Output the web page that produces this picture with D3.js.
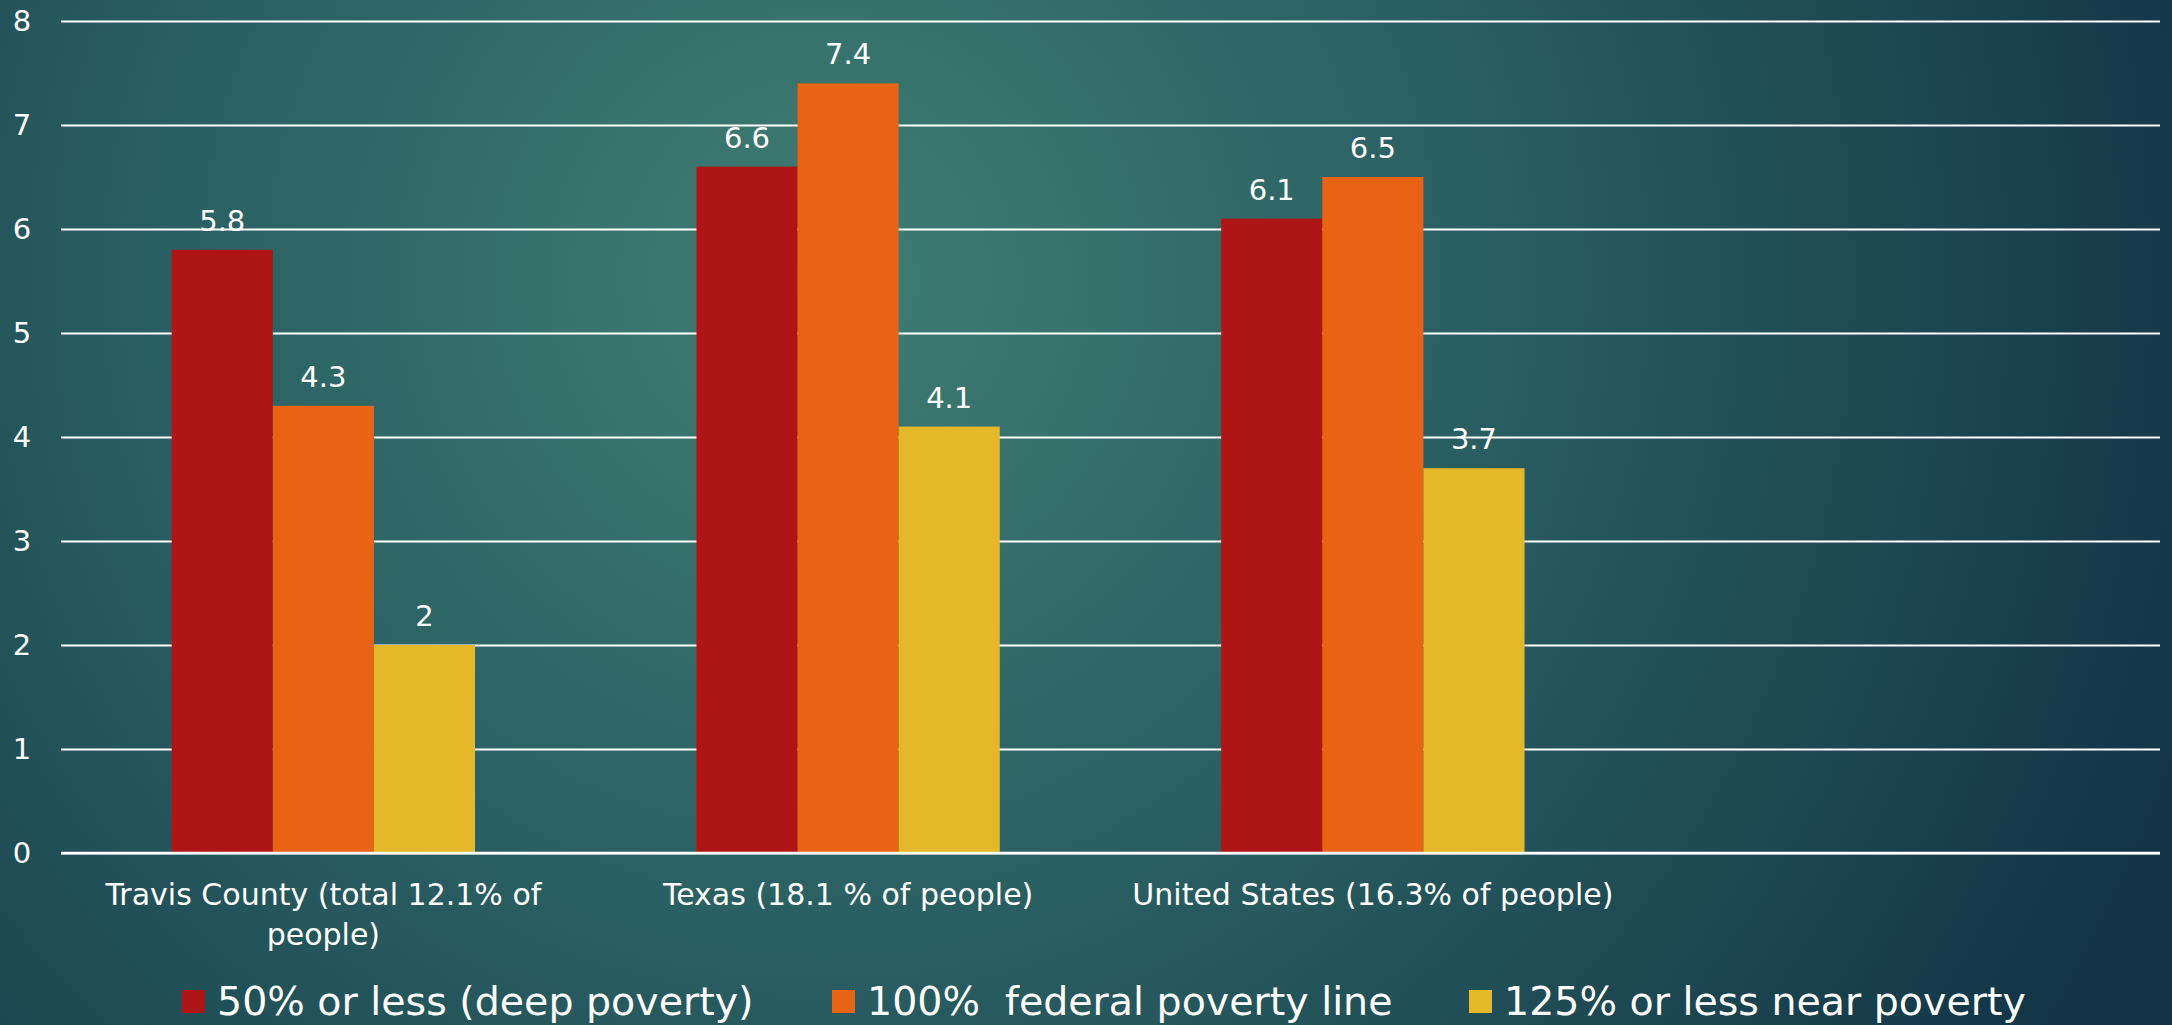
<!DOCTYPE html>
<html><head><meta charset="utf-8">
<script src="https://cdn.jsdelivr.net/npm/d3@7"></script>
<style>
html,body{margin:0;padding:0;overflow:hidden;background:#1d4a52;}
svg{display:block;}
text{font-family:"DejaVu Sans","Noto Sans",sans-serif;fill:#ffffff;font-weight:400;}
</style></head>
<body>
<script>
const categories = ["Travis County (total 12.1% of people)", "Texas (18.1 % of people)", "United States (16.3% of people)", ""];
const seriesNames = ["50% or less (deep poverty)", "100%  federal poverty line", "125% or less near poverty"];
const deepPoverty = [5.8, 6.6, 6.1];
const federalLine = [4.3, 7.4, 6.5];
const nearPoverty = [2, 4.1, 3.7];
const yTicks = [0, 1, 2, 3, 4, 5, 6, 7, 8];
const seriesColors = ["#AF1515", "#E86313", "#E5B82A"];

const series = [deepPoverty, federalLine, nearPoverty];
const W = 2172, H = 1025;
const svg = d3.select("body").append("svg").attr("width", W).attr("height", H);

// background
const defs = svg.append("defs");
const rg = defs.append("radialGradient").attr("id","bg").attr("gradientUnits","userSpaceOnUse")
  .attr("cx", 820).attr("cy", 280).attr("r", 1450);
rg.append("stop").attr("offset","0%").attr("stop-color","#3F7D72");
rg.append("stop").attr("offset","45%").attr("stop-color","#2A5F62");
rg.append("stop").attr("offset","100%").attr("stop-color","#123445");
svg.append("rect").attr("width",W).attr("height",H).attr("fill","url(#bg)");

const x0 = d3.scaleBand().domain(d3.range(categories.length)).range([61, 2160]).paddingInner(0).paddingOuter(0);
const gap = 2.19;
const bw = x0.bandwidth() / (3 + gap);
const x1 = d3.scaleBand().domain(d3.range(3)).range([x0.bandwidth()/2 - 1.5*bw, x0.bandwidth()/2 + 1.5*bw]);
const y = d3.scaleLinear().domain([0, 8]).range([853, 21]);

// gridlines
const yAxis = d3.axisLeft(y).tickValues(yTicks).tickSize(-(2160-61)).tickFormat(d3.format("d")).tickPadding(22);
const gy = svg.append("g").attr("transform","translate(61,0)").call(yAxis);
gy.select(".domain").remove();
gy.selectAll(".tick line").attr("stroke","#ffffff").attr("stroke-width",2);
gy.selectAll(".tick text").attr("font-size",29).attr("fill","#fff").attr("text-anchor","middle").attr("x",-39)
  .style("font-family","'DejaVu Sans', 'Noto Sans', sans-serif").style("font-weight",400);

// bars
const groups = svg.append("g").selectAll("g").data(d3.range(3)).join("g")
  .attr("transform", i => `translate(${x0(i)},0)`);
groups.selectAll("rect").data(i => series.map((s, k) => ({k, v: s[i]}))).join("rect")
  .attr("x", d => x1(d.k)).attr("width", x1.bandwidth())
  .attr("y", d => y(d.v)).attr("height", d => y(0) - y(d.v))
  .attr("fill", d => seriesColors[d.k]);
groups.selectAll("text").data(i => series.map((s, k) => ({k, v: s[i]}))).join("text")
  .attr("x", d => x1(d.k) + x1.bandwidth()/2).attr("y", d => y(d.v) - 19)
  .attr("text-anchor","middle").attr("font-size",29).text(d => d3.format("")(d.v));

// baseline axis
svg.append("line").attr("x1",61).attr("x2",2160).attr("y1",y(0)).attr("y2",y(0))
  .attr("stroke","#ffffff").attr("stroke-width",2.5);

// category labels with wrap
const catG = svg.append("g");
categories.forEach((c, i) => {
  if (!c) return;
  const t = catG.append("text").attr("x", x0(i) + x0.bandwidth()/2).attr("y", 905)
    .attr("text-anchor","middle").attr("font-size",30);
  const words = c.split(" ");
  let line = [];
  let ts = t.append("tspan").attr("x", x0(i) + x0.bandwidth()/2);
  words.forEach(w => {
    line.push(w);
    ts.text(line.join(" "));
    if (ts.node().getComputedTextLength() > x0.bandwidth() && line.length > 1) {
      line.pop(); ts.text(line.join(" "));
      line = [w];
      ts = t.append("tspan").attr("x", x0(i) + x0.bandwidth()/2).attr("dy", 40).text(w);
    }
  });
});

// legend
const legX = [182, 832, 1469];
const leg = svg.append("g").selectAll("g").data(seriesNames).join("g")
  .attr("transform", (d,i) => `translate(${legX[i]},0)`);
leg.append("rect").attr("x",0).attr("y",990).attr("width",23).attr("height",23).attr("fill",(d,i)=>seriesColors[i]);
leg.append("text").attr("x",35).attr("y",1015).attr("font-size",39.5).style("white-space","pre").text(d=>d);
</script>
</body></html>
